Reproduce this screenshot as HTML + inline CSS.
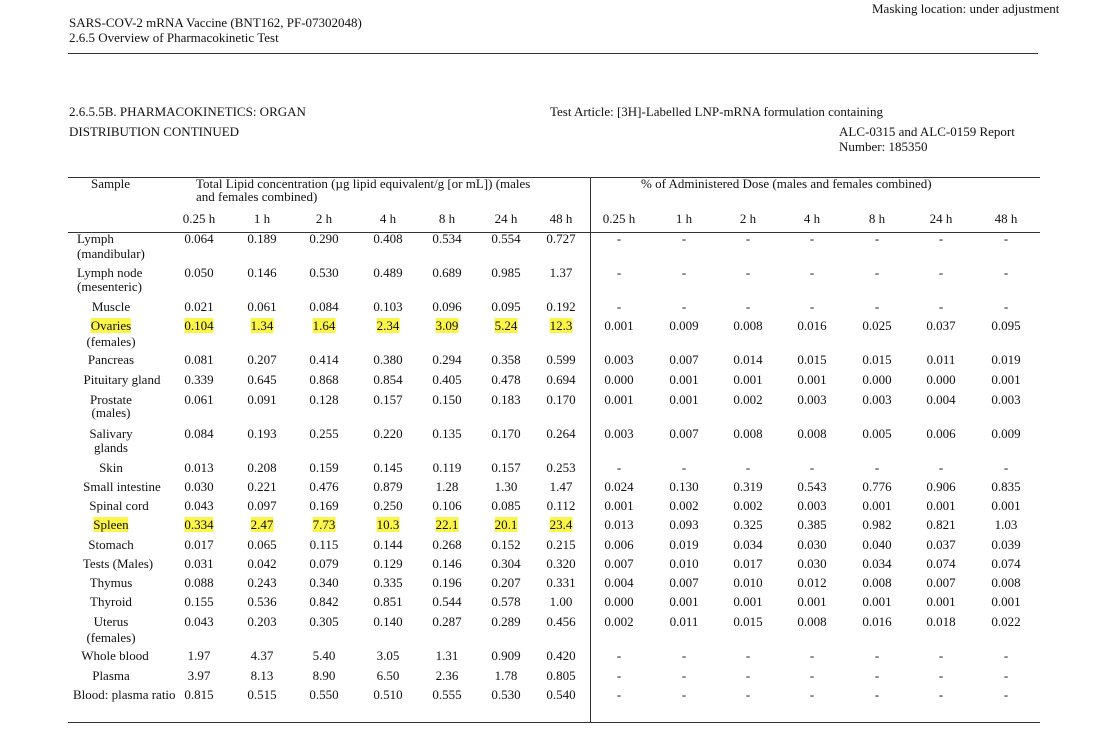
<!DOCTYPE html>
<html><head><meta charset="utf-8"><style>
body{margin:0;background:#fff;}
#p{position:relative;width:1096px;height:751px;overflow:hidden;font-family:"Liberation Serif",serif;font-size:13px;color:#111;}
.t{position:absolute;white-space:nowrap;line-height:15px;}
.r{position:absolute;left:0;width:1096px;height:15px;}
.r span{position:absolute;transform:translateX(-50%);white-space:nowrap;line-height:15px;}
.r span.n{transform:none;}
.h{background:#fbf54a;}
.a{left:111px}
.c1{left:199px}.c2{left:262px}.c3{left:324px}.c4{left:388px}.c5{left:447px}.c6{left:506px}.c7{left:561px}
.d1{left:619px}.d2{left:684px}.d3{left:748px}.d4{left:812px}.d5{left:877px}.d6{left:941px}.d7{left:1006px}
.ln{position:absolute;background:#333;}
</style></head><body><div id="p">
<div class="t" style="left:872px;top:1px;">Masking location: under adjustment</div>
<div class="t" style="left:69px;top:15px;">SARS-COV-2 mRNA Vaccine (BNT162, PF-07302048)</div>
<div class="t" style="left:69px;top:30px;">2.6.5 Overview of Pharmacokinetic Test</div>
<div class="ln" style="left:68px;top:53px;width:970px;height:1px;"></div>
<div class="t" style="left:69px;top:104px;">2.6.5.5B. PHARMACOKINETICS: ORGAN</div>
<div class="t" style="left:69px;top:124px;">DISTRIBUTION CONTINUED</div>
<div class="t" style="left:550px;top:104px;">Test Article: [3H]-Labelled LNP-mRNA formulation containing</div>
<div class="t" style="left:839px;top:124px;">ALC-0315 and ALC-0159 Report</div>
<div class="t" style="left:839px;top:139px;">Number: 185350</div>
<div class="ln" style="left:68px;top:177px;width:972px;height:1px;"></div>
<div class="ln" style="left:68px;top:232px;width:972px;height:1px;"></div>
<div class="ln" style="left:68px;top:722px;width:972px;height:1px;"></div>
<div class="ln" style="left:590px;top:177px;width:1px;height:546px;"></div>
<div class="t" style="left:91px;top:176px;">Sample</div>
<div class="t" style="left:196px;top:176px;">Total Lipid concentration (µg lipid equivalent/g [or mL]) (males</div>
<div class="t" style="left:196px;top:189px;">and females combined)</div>
<div class="t" style="left:641px;top:176px;">% of Administered Dose (males and females combined)</div>
<div class="r" style="top:211px"><span class="c1">0.25 h</span><span class="c2">1 h</span><span class="c3">2 h</span><span class="c4">4 h</span><span class="c5">8 h</span><span class="c6">24 h</span><span class="c7">48 h</span><span class="d1">0.25 h</span><span class="d2">1 h</span><span class="d3">2 h</span><span class="d4">4 h</span><span class="d5">8 h</span><span class="d6">24 h</span><span class="d7">48 h</span></div>

<div class="r" style="top:231px"><span class="n" style="left:77px">Lymph</span><span class="c1">0.064</span><span class="c2">0.189</span><span class="c3">0.290</span><span class="c4">0.408</span><span class="c5">0.534</span><span class="c6">0.554</span><span class="c7">0.727</span><span class="d1">-</span><span class="d2">-</span><span class="d3">-</span><span class="d4">-</span><span class="d5">-</span><span class="d6">-</span><span class="d7">-</span></div>
<div class="r" style="top:246px"><span class="n" style="left:77px">(mandibular)</span></div>
<div class="r" style="top:265px"><span class="n" style="left:77px">Lymph node</span><span class="c1">0.050</span><span class="c2">0.146</span><span class="c3">0.530</span><span class="c4">0.489</span><span class="c5">0.689</span><span class="c6">0.985</span><span class="c7">1.37</span><span class="d1">-</span><span class="d2">-</span><span class="d3">-</span><span class="d4">-</span><span class="d5">-</span><span class="d6">-</span><span class="d7">-</span></div>
<div class="r" style="top:279px"><span class="n" style="left:77px">(mesenteric)</span></div>
<div class="r" style="top:299px"><span class="a">Muscle</span><span class="c1">0.021</span><span class="c2">0.061</span><span class="c3">0.084</span><span class="c4">0.103</span><span class="c5">0.096</span><span class="c6">0.095</span><span class="c7">0.192</span><span class="d1">-</span><span class="d2">-</span><span class="d3">-</span><span class="d4">-</span><span class="d5">-</span><span class="d6">-</span><span class="d7">-</span></div>
<div class="r" style="top:318px"><span class="a h">Ovaries</span><span class="c1 h">0.104</span><span class="c2 h">1.34</span><span class="c3 h">1.64</span><span class="c4 h">2.34</span><span class="c5 h">3.09</span><span class="c6 h">5.24</span><span class="c7 h">12.3</span><span class="d1">0.001</span><span class="d2">0.009</span><span class="d3">0.008</span><span class="d4">0.016</span><span class="d5">0.025</span><span class="d6">0.037</span><span class="d7">0.095</span></div>
<div class="r" style="top:334px"><span class="a">(females)</span></div>
<div class="r" style="top:352px"><span class="a">Pancreas</span><span class="c1">0.081</span><span class="c2">0.207</span><span class="c3">0.414</span><span class="c4">0.380</span><span class="c5">0.294</span><span class="c6">0.358</span><span class="c7">0.599</span><span class="d1">0.003</span><span class="d2">0.007</span><span class="d3">0.014</span><span class="d4">0.015</span><span class="d5">0.015</span><span class="d6">0.011</span><span class="d7">0.019</span></div>
<div class="r" style="top:372px"><span class="a" style="left:122px">Pituitary gland</span><span class="c1">0.339</span><span class="c2">0.645</span><span class="c3">0.868</span><span class="c4">0.854</span><span class="c5">0.405</span><span class="c6">0.478</span><span class="c7">0.694</span><span class="d1">0.000</span><span class="d2">0.001</span><span class="d3">0.001</span><span class="d4">0.001</span><span class="d5">0.000</span><span class="d6">0.000</span><span class="d7">0.001</span></div>
<div class="r" style="top:392px"><span class="a">Prostate</span><span class="c1">0.061</span><span class="c2">0.091</span><span class="c3">0.128</span><span class="c4">0.157</span><span class="c5">0.150</span><span class="c6">0.183</span><span class="c7">0.170</span><span class="d1">0.001</span><span class="d2">0.001</span><span class="d3">0.002</span><span class="d4">0.003</span><span class="d5">0.003</span><span class="d6">0.004</span><span class="d7">0.003</span></div>
<div class="r" style="top:405px"><span class="a">(males)</span></div>
<div class="r" style="top:426px"><span class="a">Salivary</span><span class="c1">0.084</span><span class="c2">0.193</span><span class="c3">0.255</span><span class="c4">0.220</span><span class="c5">0.135</span><span class="c6">0.170</span><span class="c7">0.264</span><span class="d1">0.003</span><span class="d2">0.007</span><span class="d3">0.008</span><span class="d4">0.008</span><span class="d5">0.005</span><span class="d6">0.006</span><span class="d7">0.009</span></div>
<div class="r" style="top:440px"><span class="a">glands</span></div>
<div class="r" style="top:460px"><span class="a">Skin</span><span class="c1">0.013</span><span class="c2">0.208</span><span class="c3">0.159</span><span class="c4">0.145</span><span class="c5">0.119</span><span class="c6">0.157</span><span class="c7">0.253</span><span class="d1">-</span><span class="d2">-</span><span class="d3">-</span><span class="d4">-</span><span class="d5">-</span><span class="d6">-</span><span class="d7">-</span></div>
<div class="r" style="top:479px"><span class="a" style="left:122px">Small intestine</span><span class="c1">0.030</span><span class="c2">0.221</span><span class="c3">0.476</span><span class="c4">0.879</span><span class="c5">1.28</span><span class="c6">1.30</span><span class="c7">1.47</span><span class="d1">0.024</span><span class="d2">0.130</span><span class="d3">0.319</span><span class="d4">0.543</span><span class="d5">0.776</span><span class="d6">0.906</span><span class="d7">0.835</span></div>
<div class="r" style="top:498px"><span class="a" style="left:119px">Spinal cord</span><span class="c1">0.043</span><span class="c2">0.097</span><span class="c3">0.169</span><span class="c4">0.250</span><span class="c5">0.106</span><span class="c6">0.085</span><span class="c7">0.112</span><span class="d1">0.001</span><span class="d2">0.002</span><span class="d3">0.002</span><span class="d4">0.003</span><span class="d5">0.001</span><span class="d6">0.001</span><span class="d7">0.001</span></div>
<div class="r" style="top:517px"><span class="a h">Spleen</span><span class="c1 h">0.334</span><span class="c2 h">2.47</span><span class="c3 h">7.73</span><span class="c4 h">10.3</span><span class="c5 h">22.1</span><span class="c6 h">20.1</span><span class="c7 h">23.4</span><span class="d1">0.013</span><span class="d2">0.093</span><span class="d3">0.325</span><span class="d4">0.385</span><span class="d5">0.982</span><span class="d6">0.821</span><span class="d7">1.03</span></div>
<div class="r" style="top:537px"><span class="a">Stomach</span><span class="c1">0.017</span><span class="c2">0.065</span><span class="c3">0.115</span><span class="c4">0.144</span><span class="c5">0.268</span><span class="c6">0.152</span><span class="c7">0.215</span><span class="d1">0.006</span><span class="d2">0.019</span><span class="d3">0.034</span><span class="d4">0.030</span><span class="d5">0.040</span><span class="d6">0.037</span><span class="d7">0.039</span></div>
<div class="r" style="top:556px"><span class="a" style="left:118px">Tests (Males)</span><span class="c1">0.031</span><span class="c2">0.042</span><span class="c3">0.079</span><span class="c4">0.129</span><span class="c5">0.146</span><span class="c6">0.304</span><span class="c7">0.320</span><span class="d1">0.007</span><span class="d2">0.010</span><span class="d3">0.017</span><span class="d4">0.030</span><span class="d5">0.034</span><span class="d6">0.074</span><span class="d7">0.074</span></div>
<div class="r" style="top:575px"><span class="a">Thymus</span><span class="c1">0.088</span><span class="c2">0.243</span><span class="c3">0.340</span><span class="c4">0.335</span><span class="c5">0.196</span><span class="c6">0.207</span><span class="c7">0.331</span><span class="d1">0.004</span><span class="d2">0.007</span><span class="d3">0.010</span><span class="d4">0.012</span><span class="d5">0.008</span><span class="d6">0.007</span><span class="d7">0.008</span></div>
<div class="r" style="top:594px"><span class="a">Thyroid</span><span class="c1">0.155</span><span class="c2">0.536</span><span class="c3">0.842</span><span class="c4">0.851</span><span class="c5">0.544</span><span class="c6">0.578</span><span class="c7">1.00</span><span class="d1">0.000</span><span class="d2">0.001</span><span class="d3">0.001</span><span class="d4">0.001</span><span class="d5">0.001</span><span class="d6">0.001</span><span class="d7">0.001</span></div>
<div class="r" style="top:614px"><span class="a">Uterus</span><span class="c1">0.043</span><span class="c2">0.203</span><span class="c3">0.305</span><span class="c4">0.140</span><span class="c5">0.287</span><span class="c6">0.289</span><span class="c7">0.456</span><span class="d1">0.002</span><span class="d2">0.011</span><span class="d3">0.015</span><span class="d4">0.008</span><span class="d5">0.016</span><span class="d6">0.018</span><span class="d7">0.022</span></div>
<div class="r" style="top:630px"><span class="a">(females)</span></div>
<div class="r" style="top:648px"><span class="a" style="left:115px">Whole blood</span><span class="c1">1.97</span><span class="c2">4.37</span><span class="c3">5.40</span><span class="c4">3.05</span><span class="c5">1.31</span><span class="c6">0.909</span><span class="c7">0.420</span><span class="d1">-</span><span class="d2">-</span><span class="d3">-</span><span class="d4">-</span><span class="d5">-</span><span class="d6">-</span><span class="d7">-</span></div>
<div class="r" style="top:668px"><span class="a">Plasma</span><span class="c1">3.97</span><span class="c2">8.13</span><span class="c3">8.90</span><span class="c4">6.50</span><span class="c5">2.36</span><span class="c6">1.78</span><span class="c7">0.805</span><span class="d1">-</span><span class="d2">-</span><span class="d3">-</span><span class="d4">-</span><span class="d5">-</span><span class="d6">-</span><span class="d7">-</span></div>
<div class="r" style="top:687px"><span class="n" style="left:73px">Blood: plasma ratio</span><span class="c1">0.815</span><span class="c2">0.515</span><span class="c3">0.550</span><span class="c4">0.510</span><span class="c5">0.555</span><span class="c6">0.530</span><span class="c7">0.540</span><span class="d1">-</span><span class="d2">-</span><span class="d3">-</span><span class="d4">-</span><span class="d5">-</span><span class="d6">-</span><span class="d7">-</span></div>
</div></body></html>
